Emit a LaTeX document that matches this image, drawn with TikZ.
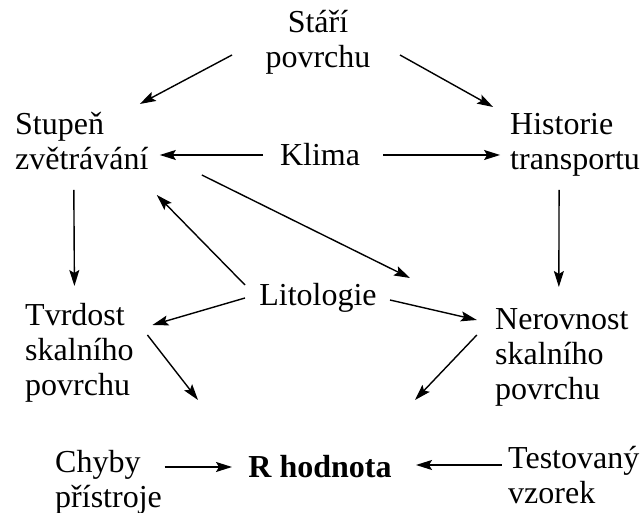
\documentclass[tikz,border=0pt]{standalone}
\usepackage{fontspec}
\setmainfont{Liberation Serif}
\usetikzlibrary{arrows.meta}
\begin{document}
\begin{tikzpicture}[x=1pt,y=1pt,
  lbl/.style={inner sep=0pt,align=left,font=\fontsize{32}{35}\selectfont},
  ctr/.style={inner sep=0pt,align=center,font=\fontsize{32}{35}\selectfont},
  arr/.style={line width=1.4pt,-{Stealth[length=16pt,width=10pt,inset=3pt]}}]
\useasboundingbox[fill=white] (0,0) rectangle (644,513);
\node[ctr] (stari) at (318,471) {Stáří\\povrchu};
\node[lbl,anchor=west] (stupen) at (15,372) {Stupeň\\zvětrávání};
\node[ctr] (klima) at (320,358) {Klima};
\node[lbl,anchor=west] (hist) at (510,368) {Historie\\transportu};
\node[ctr] (lito) at (318,215) {Litologie};
\node[lbl,anchor=west] (tvrd) at (25,160) {Tvrdost\\skalního\\povrchu};
\node[lbl,anchor=west] (nerov) at (495,156) {Nerovnost\\skalního\\povrchu};
\node[lbl,anchor=west] (chyby) at (55,31) {Chyby\\přístroje};
\node[ctr,font=\fontsize{32}{35}\selectfont\bfseries] (R) at (320,46) {R hodnota};
\node[lbl,anchor=west] (test) at (508,38) {Testovaný\\vzorek};
\coordinate (free) at (410,235);

\draw[arr] ([shift={(-86,-13)}]stari.center) -- ([shift={(58,37)}]stupen.center);
\draw[arr] ([shift={(82,-13)}]stari.center) -- ([shift={(-82,38)}]hist.center);
\draw[arr] ([shift={(-57,0)}]klima.center) -- ([shift={(78,-14)}]stupen.center);
\draw[arr] ([shift={(63,0)}]klima.center) -- ([shift={(-75,-10)}]hist.center);
\draw[arr] ([shift={(-8,-49)}]stupen.center) -- ([shift={(-5,67)}]tvrd.center);
\draw[arr] ([shift={(-16,-45)}]hist.center) -- ([shift={(-3,70)}]nerov.center);
\draw[arr] ([shift={(120,-34)}]stupen.center) -- (free);
\draw[arr] ([shift={(-73,13)}]lito.center) -- ([shift={(75,-54)}]stupen.center);
\draw[arr] ([shift={(-73,0)}]lito.center) -- ([shift={(73,28)}]tvrd.center);
\draw[arr] ([shift={(72,-2)}]lito.center) -- ([shift={(-85,37)}]nerov.center);
\draw[arr] ([shift={(68,18)}]tvrd.center) -- ([shift={(-122,67)}]R.center);
\draw[arr] ([shift={(-85,22)}]nerov.center) -- ([shift={(95,67)}]R.center);
\draw[arr] ([shift={(56,15)}]chyby.center) -- ([shift={(-88,0)}]R.center);
\draw[arr] ([shift={(-72,10)}]test.center) -- ([shift={(96,2)}]R.center);
\end{tikzpicture}
\end{document}
